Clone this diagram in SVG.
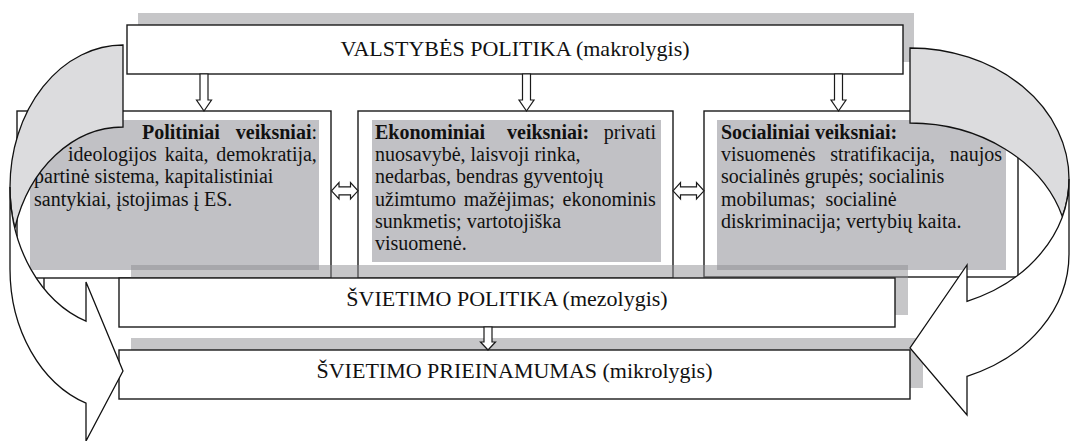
<svg xmlns="http://www.w3.org/2000/svg" width="1070" height="441" viewBox="0 0 1070 441">
<style>
.box{fill:#fff;stroke:#1a1a1a;stroke-width:1.4}
.sh{fill:#8e8e92;opacity:0.5}
.bg{fill:#c1c1c5}
.h{font-family:"Liberation Serif","Times New Roman",serif;font-size:22px;fill:#111}
.f{font-family:"Liberation Serif","Times New Roman",serif;font-size:20px;fill:#111}
.b{font-weight:bold}
.ar{fill:#fff;stroke:#1a1a1a;stroke-width:1.2;stroke-linejoin:miter}
.back{fill:#dcdcde;stroke:#111;stroke-width:1.3}
.front{fill:#fff;stroke:#111;stroke-width:1.3}
</style>
<rect width="1070" height="441" fill="#fff"/>

<g id="valstybes-politika">
<rect x="138" y="13" width="776" height="49" class="sh"/>
<rect x="127" y="25" width="776" height="49" class="box"/>
<text x="515" y="55.5" class="h" text-anchor="middle">VALSTYBĖS POLITIKA (makrolygis)</text>
</g>

<g id="politiniai-veiksniai">
<rect x="17" y="111" width="314" height="167" class="box"/>
<rect x="30" y="120" width="289" height="150" class="bg"/>
<path d="M44,278 V300" stroke="#1a1a1a" stroke-width="1.4" fill="none"/>
<text x="142" y="139" class="f b">Politiniai</text>
<text x="317" y="139" class="f" text-anchor="end"><tspan class="b">veiksniai</tspan>:</text>
<text x="68" y="161.2" class="f" word-spacing="2.8">ideologijos kaita, demokratija,</text>
<text x="34" y="183.4" class="f">partinė sistema, kapitalistiniai</text>
<text x="34" y="205.6" class="f">santykiai, įstojimas į ES.</text>
</g>

<g id="ekonominiai-veiksniai">
<rect x="358" y="111" width="315" height="167" class="box"/>
<rect x="372" y="120" width="289" height="142" class="bg"/>
<text x="375" y="139" class="f b">Ekonominiai</text>
<text x="507" y="139" class="f b">veiksniai:</text>
<text x="656" y="139" class="f" text-anchor="end">privati</text>
<text x="375" y="161.2" class="f">nuosavybė, laisvoji rinka,</text>
<text x="375" y="183.4" class="f">nedarbas, bendras gyventojų</text>
<text x="375" y="205.6" class="f" word-spacing="2.7">užimtumo mažėjimas; ekonominis</text>
<text x="375" y="227.8" class="f">sunkmetis; vartotojiška</text>
<text x="375" y="250" class="f">visuomenė.</text>
</g>

<g id="socialiniai-veiksniai">
<rect x="704" y="111" width="314" height="166" class="box"/>
<rect x="717" y="120" width="289" height="150" class="bg"/>
<text x="721" y="139" class="f b">Socialiniai veiksniai:</text>
<text x="721" y="161.2" class="f" word-spacing="9.7">visuomenės stratifikacija, naujos</text>
<text x="721" y="183.4" class="f">socialinės grupės; socialinis</text>
<text x="721" y="205.6" class="f" xml:space="preserve">mobilumas;  socialinė</text>
<text x="721" y="228" class="f">diskriminacija; vertybių kaita.</text>
</g>

<g id="svietimo-politika">
<rect x="131" y="265" width="777" height="50" class="sh"/>
<rect x="119" y="278" width="776" height="49" class="box"/>
<text x="507" y="306" class="h" text-anchor="middle">ŠVIETIMO POLITIKA (mezolygis)</text>
</g>

<g id="svietimo-prieinamumas">
<rect x="131" y="338" width="792" height="50" class="sh"/>
<rect x="119" y="350" width="791" height="49" class="box"/>
<text x="514.5" y="378" class="h" text-anchor="middle">ŠVIETIMO PRIEINAMUMAS (mikrolygis)</text>
</g>

<g id="connectors">
<path class="ar" d="M200,74 V100 H196.5 L204,111 L211.5,100 H208 V74 Z"/>
<path class="ar" d="M522.5,74 V100 H519 L526.5,111 L534,100 H530.5 V74 Z"/>
<path class="ar" d="M834.5,74 V100 H831 L838.5,111 L846,100 H842.5 V74 Z"/>
<path class="ar" d="M484,327 V342 H480.5 L488,350 L495.5,342 H492 V327 Z"/>
<path class="ar" d="M331.5,190.8 L339,182.5 V186.8 H350.5 V182.5 L358,190.8 L350.5,199 V194.8 H339 V199 Z"/>
<path class="ar" d="M673,190.8 L680.5,182.5 V186.8 H696.5 V182.5 L704,190.8 L696.5,199 V194.8 H680.5 V199 Z"/>

<g id="curved-arrow-left">
<path class="back" d="M123,45 A113 142 0 0 0 10,187 A113 142 0 0 0 14.81,228 A113 142 0 0 1 123,127 Z"/>
<path class="front" d="M10,187 A113 142 0 0 0 86,321.17 L86,282 L123,371 L86,441 L86,403.17 A113 142 0 0 1 10,269 Z"/>
</g>
<g id="curved-arrow-right">
<path class="back" d="M910,48 A159 131 0 0 1 1069,179 A159 131 0 0 1 1062.35,216.5 A159 131 0 0 0 910,123 Z"/>
<path class="front" d="M1069,179 A159 131 0 0 1 967,301.29 L967,265 L910,348 L967,415 L967,376.29 A159 131 0 0 0 1069,254 Z"/>
</g>
</g>
</svg>
